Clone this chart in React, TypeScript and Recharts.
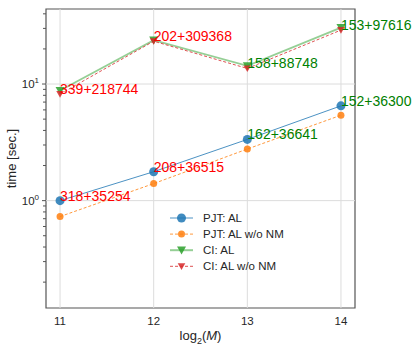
import React from 'react';
import { LineChart, Line, XAxis, YAxis, ReferenceLine, ReferenceArea, LabelList, Legend } from 'recharts';

const logM = [11, 12, 13, 14];
const pjtAl = [1.0, 1.77, 3.35, 6.5];
const pjtAlNoNm = [0.73, 1.4, 2.77, 5.4];
const ciAl = [8.8, 23.8, 14.3, 30.5];
const ciAlNoNm = [8.2, 23.3, 13.6, 29.0];
const pjtNotes = ['318+35254', '208+36515', '162+36641', '152+36300'];
const ciNotes = ['339+218744', '202+309368', '158+88748', '153+97616'];
const noteColors = ['#ff0000', '#ff0000', '#008000', '#008000'];
const majorTicks = [1, 10];
const minorTicks = [0.2, 0.3, 0.4, 0.5, 0.6, 0.7, 0.8, 0.9, 2, 3, 4, 5, 6, 7, 8, 9, 20, 30, 40];

const data = logM.map((m, i) => ({
  m,
  pjtAl: pjtAl[i],
  pjtAlNoNm: pjtAlNoNm[i],
  ciAl: ciAl[i],
  ciAlNoNm: ciAlNoNm[i],
  pjtNote: pjtNotes[i],
  ciNote: ciNotes[i],
}));

const FONT = '"Liberation Sans", Arial, sans-serif';
const TEXT = '#262626';

const BLUE = '#1f77b4';
const ORANGE = '#ff7f0e';
const GREEN = '#2ca02c';
const RED = '#d62728';

const triangle = (cx: number, cy: number, s: number) =>
  `${cx - s},${cy - s * 0.8} ${cx + s},${cy - s * 0.8} ${cx},${cy + s * 0.95}`;

const circleDot = (color: string, r: number) => (props: any) => (
  <circle key={`c-${color}-${props.index}`} cx={props.cx} cy={props.cy} r={r} fill={color} fillOpacity={0.85} />
);

const triDot = (color: string, s: number) => (props: any) => (
  <polygon key={`t-${color}-${props.index}`} points={triangle(props.cx, props.cy, s)} fill={color} fillOpacity={0.85} />
);

const YTick = (props: any) => {
  const { x, y, payload } = props;
  const v = payload.value;
  const major = majorTicks.includes(v);
  return (
    <g>
      <line x1={x - (major ? 4 : 3)} x2={x} y1={y} y2={y} stroke="#555" strokeWidth={1} />
      {major && (
        <text x={x - 7} y={y + 4} textAnchor="end" fontSize={11.5} fill={TEXT} fontFamily={FONT}>
          10<tspan dy={-5} fontSize={8}>{v === 1 ? '0' : '1'}</tspan>
        </text>
      )}
    </g>
  );
};

const XTick = (props: any) => {
  const { x, y, payload } = props;
  return (
    <text x={x} y={y + 9} textAnchor="middle" fontSize={11.5} fill={TEXT} fontFamily={FONT}>
      {payload.value}
    </text>
  );
};

const note = (props: any) => {
  const { x, y, index, value } = props;
  return (
    <text key={`n-${value}`} x={x} y={y} fontSize={14} fill={noteColors[index]} fontFamily={FONT}>
      {value}
    </text>
  );
};

const legendItems = [
  { name: 'PJT: AL', color: BLUE, dash: undefined, kind: 'circle', size: 4.5 },
  { name: 'PJT: AL w/o NM', color: ORANGE, dash: '3 2', kind: 'circle', size: 3.5 },
  { name: 'CI: AL', color: GREEN, dash: undefined, kind: 'tri', size: 4.5 },
  { name: 'CI: AL w/o NM', color: RED, dash: '3 2', kind: 'tri', size: 3.8 },
];

const renderLegend = () => (
  <svg width={150} height={70}>
    {legendItems.map((it, i) => {
      const y = 10 + i * 16.1;
      return (
        <g key={it.name}>
          <line x1={5} x2={28} y1={y} y2={y} stroke={it.color} strokeOpacity={it.kind === 'tri' && !it.dash ? 0.5 : 0.8}
            strokeWidth={it.kind === 'tri' && !it.dash ? 2 : 1} strokeDasharray={it.dash} />
          {it.kind === 'circle' ? (
            <circle cx={16.5} cy={y} r={it.size} fill={it.color} fillOpacity={0.85} />
          ) : (
            <polygon points={triangle(16.5, y, it.size)} fill={it.color} fillOpacity={0.85} />
          )}
          <text x={38} y={y + 4} fontSize={11.5} fill={TEXT} fontFamily={FONT}>{it.name}</text>
        </g>
      );
    })}
  </svg>
);

const XLabel = (props: any) => {
  const vb = props.viewBox;
  const cx = vb.x + vb.width / 2;
  return (
    <text x={cx} y={340} textAnchor="middle" fontSize={13} fill={TEXT} fontFamily={FONT}>
      log<tspan dy={4} fontSize={9}>2</tspan><tspan dy={-4}>(</tspan><tspan fontStyle="italic">M</tspan>)
    </text>
  );
};

const YLabel = (props: any) => {
  const vb = props.viewBox;
  const cy = vb.y + vb.height / 2;
  return (
    <text x={16} y={cy} transform={`rotate(-90 16 ${cy})`} textAnchor="middle" fontSize={13} fill={TEXT} fontFamily={FONT}>
      time [sec.]
    </text>
  );
};

export default function App() {
  return (
    <div style={{ position: 'absolute', left: 0, top: 0, width: 415, height: 349, background: '#fff' }}>
      <LineChart width={415} height={349} data={data} margin={{ top: 9, right: 60, bottom: 11, left: 6 }}>
        {logM.map((m) => (
          <ReferenceLine key={`vx-${m}`} x={m} stroke="#dcdcdc" strokeWidth={1} />
        ))}
        {majorTicks.map((v) => (
          <ReferenceLine key={`hy-${v}`} y={v} stroke="#dcdcdc" strokeWidth={1} />
        ))}
        <XAxis
          dataKey="m"
          type="number"
          domain={[10.85, 14.15]}
          ticks={logM}
          allowDataOverflow
          axisLine={false}
          tickLine={false}
          tick={<XTick />}
          height={30}
          label={<XLabel />}
        />
        <YAxis
          type="number"
          scale="log"
          domain={[0.12, 44]}
          allowDataOverflow
          ticks={[...minorTicks, ...majorTicks]}
          interval={0}
          axisLine={false}
          tickLine={false}
          tickSize={0}
          tickMargin={0}
          tick={<YTick />}
          width={40}
          label={<YLabel />}
        />
        <Line dataKey="pjtAl" stroke={BLUE} strokeOpacity={0.8} strokeWidth={1} dot={circleDot(BLUE, 4.5)}
          activeDot={false} isAnimationActive={false}>
          <LabelList dataKey="pjtNote" content={note} />
        </Line>
        <Line dataKey="pjtAlNoNm" stroke={ORANGE} strokeOpacity={0.8} strokeWidth={1} strokeDasharray="3 2"
          dot={circleDot(ORANGE, 3.5)} activeDot={false} isAnimationActive={false} />
        <Line dataKey="ciAl" stroke={GREEN} strokeOpacity={0.5} strokeWidth={1.8} dot={triDot(GREEN, 4.5)}
          activeDot={false} isAnimationActive={false} />
        <Line dataKey="ciAlNoNm" stroke={RED} strokeOpacity={0.8} strokeWidth={1} strokeDasharray="3 2"
          dot={triDot(RED, 3.8)} activeDot={false} isAnimationActive={false}>
          <LabelList dataKey="ciNote" content={note} />
        </Line>
        <ReferenceArea x1={10.85} x2={14.15} y1={0.12} y2={44} fill="none" stroke="#555" strokeWidth={1.2}
          ifOverflow="visible" />
        <Legend
          layout="horizontal"
          verticalAlign="middle"
          align="center"
          content={renderLegend}
          wrapperStyle={{ position: 'absolute', left: 165, top: 208, width: 150, height: 70 }}
        />
      </LineChart>
    </div>
  );
}
